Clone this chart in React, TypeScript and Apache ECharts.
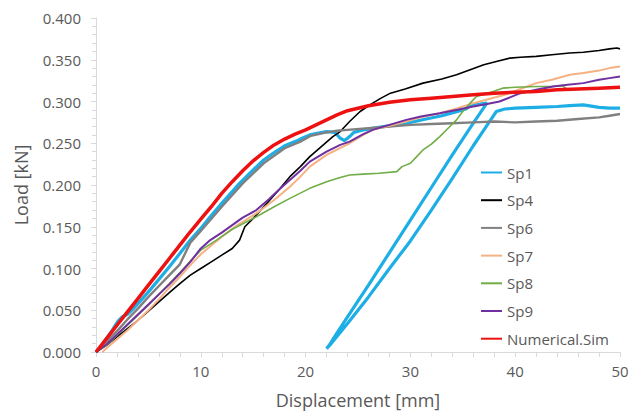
import React, { useEffect, useRef } from "react";
import * as echarts from "echarts";

const seriesNames = ["Sp1", "Sp4", "Sp6", "Sp7", "Sp8", "Sp9", "Numerical.Sim"];
const xTicks = { min: 0, max: 50, interval: 10 };
const yTicks = { min: 0, max: 0.4, interval: 0.05 };

const sp1: number[][] = [
  [0, 0], [0.5, 0.006], [1, 0.016], [1.6, 0.027], [2.1, 0.037], [2.5, 0.042], [3, 0.045], [3.5, 0.051],
  [4, 0.058], [5, 0.072], [6, 0.087], [7, 0.102], [8, 0.118], [9, 0.134], [10, 0.148], [10.9, 0.162],
  [12, 0.178], [13, 0.192], [13.7, 0.202], [15, 0.218], [16, 0.230], [16.9, 0.238], [18, 0.247],
  [19, 0.252], [19.5, 0.255], [20.4, 0.260], [21.1, 0.262], [22, 0.264], [22.8, 0.263], [23.3, 0.256],
  [23.7, 0.253], [24.2, 0.258], [24.6, 0.263], [25.5, 0.266], [27, 0.269], [28.5, 0.272], [30, 0.275],
  [31.5, 0.279], [33, 0.283], [34.5, 0.288], [35.3, 0.291], [35.8, 0.296], [36.6, 0.297], [37.3, 0.298],
  [36, 0.274], [34, 0.236], [32, 0.197], [30, 0.158], [28, 0.119], [26, 0.080], [24, 0.042], [23, 0.023],
  [22.3, 0.009], [22, 0.004], [22.5, 0.011], [24, 0.034], [26, 0.066], [28, 0.100], [30, 0.133],
  [32, 0.170], [34, 0.208], [36, 0.247], [37.5, 0.275], [38.2, 0.288], [39, 0.291], [40, 0.292],
  [42, 0.293], [44, 0.294], [45.2, 0.295], [46.5, 0.296], [48, 0.293], [49, 0.292], [50, 0.292],
];

const sp4: number[][] = [
  [0, 0], [1, 0.008], [2, 0.018], [3, 0.028], [4, 0.038], [5, 0.049], [6, 0.060], [7, 0.071],
  [8, 0.082], [9, 0.092], [10, 0.100], [11, 0.108], [12, 0.116], [13, 0.124], [13.7, 0.134],
  [14.2, 0.150], [15, 0.160], [16.3, 0.178], [17.5, 0.195], [18.5, 0.210], [19.5, 0.222],
  [20.4, 0.234], [21.5, 0.246], [22.6, 0.258], [23.3, 0.264], [24.2, 0.276], [25.2, 0.288],
  [26.4, 0.298], [27.2, 0.304], [28.1, 0.310], [29.5, 0.315], [31.2, 0.322], [33, 0.327],
  [34.4, 0.332], [35.7, 0.338], [37, 0.344], [38.2, 0.348], [39.5, 0.352], [40.5, 0.353],
  [42, 0.354], [43.5, 0.356], [45.2, 0.358], [46.5, 0.359], [48, 0.361], [49, 0.363], [49.7, 0.364], [50, 0.363],
];

const sp6: number[][] = [
  [0, 0], [1, 0.012], [2, 0.025], [3, 0.039], [4, 0.052], [5, 0.066], [6, 0.079], [7, 0.092],
  [8, 0.105], [9, 0.131], [10, 0.145], [12, 0.174], [14, 0.202], [16, 0.226], [18, 0.244],
  [19.5, 0.252], [20.5, 0.259], [22, 0.263], [23, 0.265], [24, 0.266], [26, 0.268], [28, 0.270],
  [30, 0.272], [32, 0.273], [34, 0.274], [36, 0.275], [38, 0.276], [40, 0.275], [42, 0.276],
  [44, 0.277], [46, 0.279], [48, 0.281], [49, 0.283], [50, 0.285],
];

const sp7: number[][] = [
  [0.6, 0], [1.5, 0.010], [3, 0.026], [4, 0.038], [5, 0.050], [6, 0.063], [7, 0.077], [8, 0.090],
  [9, 0.104], [10, 0.117], [12, 0.138], [13.5, 0.152], [15.3, 0.166], [17, 0.182], [18.5, 0.198],
  [19.5, 0.210], [20.4, 0.222], [22, 0.236], [24.2, 0.250], [25.5, 0.260], [26.4, 0.266], [28, 0.271],
  [29.6, 0.276], [31, 0.281], [32.8, 0.286], [34.5, 0.292], [36, 0.298], [37.5, 0.303], [39, 0.308],
  [40.5, 0.315], [42, 0.322], [43.5, 0.326], [45.2, 0.332], [46.5, 0.334], [48, 0.337], [49, 0.340], [50, 0.342],
];

const sp8: number[][] = [
  [0, 0], [1, 0.008], [2, 0.020], [3, 0.032], [4, 0.044], [5, 0.056], [6, 0.069], [7, 0.082],
  [8, 0.095], [9, 0.109], [10, 0.122], [11.5, 0.134], [13, 0.147], [15.3, 0.162], [17, 0.174],
  [18.5, 0.184], [20.4, 0.196], [22, 0.204], [23.3, 0.209], [24.2, 0.212], [25.5, 0.213], [27, 0.214],
  [28.7, 0.216], [29.2, 0.222], [30, 0.226], [30.6, 0.234], [31.2, 0.242], [32, 0.249], [32.8, 0.258],
  [33.6, 0.268], [34.4, 0.278], [35, 0.288], [35.7, 0.298], [36.3, 0.306], [37.2, 0.309], [37.9, 0.312],
  [38.8, 0.316], [40, 0.317], [42, 0.318], [43.5, 0.318], [44.5, 0.319], [44.9, 0.315],
];

const sp9: number[][] = [
  [0, 0], [1, 0.009], [2, 0.021], [3, 0.033], [4, 0.045], [5, 0.057], [6, 0.069], [7, 0.081],
  [8, 0.094], [9, 0.108], [10, 0.124], [10.9, 0.134], [12, 0.143], [13, 0.152], [14, 0.161],
  [15.3, 0.170], [16.5, 0.183], [17.5, 0.195], [18.5, 0.206], [19.5, 0.217], [20.4, 0.228],
  [22, 0.240], [23.3, 0.248], [24.2, 0.252], [25.5, 0.261], [26.4, 0.266], [28, 0.272], [29.6, 0.278],
  [31, 0.282], [32.8, 0.286], [34.5, 0.290], [36, 0.294], [37.3, 0.297], [38.5, 0.300], [39.5, 0.305],
  [40.5, 0.310], [42, 0.314], [43.6, 0.318], [45, 0.320], [46.5, 0.322], [48, 0.326], [49, 0.328], [50, 0.330],
];

const numSim: number[][] = [
  [0, 0], [1, 0.016], [2, 0.032], [3, 0.048], [4, 0.064], [5, 0.080], [6, 0.096], [7, 0.112],
  [8, 0.128], [9, 0.144], [10, 0.159], [11, 0.174], [12, 0.190], [13, 0.204], [14, 0.217],
  [15, 0.229], [16, 0.239], [17, 0.248], [18, 0.255], [19, 0.261], [20, 0.266], [21, 0.272],
  [22, 0.278], [23, 0.284], [24, 0.289], [25, 0.292], [26, 0.295], [28, 0.299], [30, 0.302],
  [32, 0.304], [34, 0.306], [36, 0.308], [38, 0.310], [40, 0.311], [42, 0.312], [44, 0.314],
  [46, 0.315], [48, 0.316], [50, 0.317],
];

const seriesData = [sp1, sp4, sp6, sp7, sp8, sp9, numSim];
const seriesColors = ["#1EAEE6", "#000000", "#808080", "#F4B183", "#70AD47", "#7030A0", "#EE1111"];
const seriesWidths = [3.2, 1.6, 2.4, 2, 1.6, 2, 3.5];

const FONT = "Open Sans";
const TXT = "#595959";
const AXC = "#D9D9D9";

export default function App() {
  const ref = useRef<HTMLDivElement>(null);
  useEffect(() => {
    if (!ref.current) return;
    const chart = echarts.init(ref.current, null, { renderer: "svg" });
    chart.setOption({
      animation: false,
      backgroundColor: "#ffffff",
      textStyle: { fontFamily: FONT },
      grid: { left: 96, right: 19, top: 18, bottom: 64, containLabel: false },
      legend: {
        orient: "vertical",
        left: 475,
        top: 160,
        itemWidth: 21,
        itemHeight: 14,
        itemGap: 12.7,
        itemStyle: { opacity: 0 },
        textStyle: { fontSize: 15, color: TXT, fontFamily: FONT },
        data: seriesNames,
      },
      xAxis: {
        type: "value",
        min: xTicks.min,
        max: xTicks.max,
        interval: xTicks.interval,
        name: "Displacement [mm]",
        nameLocation: "middle",
        nameGap: 39,
        nameTextStyle: { fontSize: 18, color: TXT, fontFamily: FONT },
        axisLine: { show: true, lineStyle: { color: AXC, width: 1 } },
        axisTick: { show: true, length: 5, lineStyle: { color: AXC } },
        minorTick: { show: true, splitNumber: 5, length: 5, lineStyle: { color: AXC } },
        splitLine: { show: false },
        axisLabel: { fontSize: 15, color: TXT, margin: 11, fontFamily: FONT },
      },
      yAxis: {
        type: "value",
        min: yTicks.min,
        max: yTicks.max,
        interval: yTicks.interval,
        name: "Load [kN]",
        nameLocation: "middle",
        nameGap: 66,
        nameTextStyle: { fontSize: 18, color: TXT, fontFamily: FONT },
        axisLine: { show: true, lineStyle: { color: AXC, width: 1 } },
        axisTick: { show: true, length: 5, lineStyle: { color: AXC } },
        minorTick: { show: true, splitNumber: 5, length: 4, lineStyle: { color: AXC } },
        splitLine: { show: false },
        axisLabel: {
          fontSize: 15,
          color: TXT,
          margin: 15,
          fontFamily: FONT,
          formatter: (v: number) => v.toFixed(3),
        },
      },
      series: seriesNames.map((name, i) => ({
        name,
        type: "line",
        data: seriesData[i],
        symbol: "none",
        showSymbol: false,
        smooth: false,
        color: seriesColors[i],
        lineStyle: { color: seriesColors[i], width: seriesWidths[i] },
        emphasis: { disabled: true },
        z: 2 + i,
      })),
    });
    return () => chart.dispose();
  }, []);
  return (
    <div
      ref={ref}
      style={{ position: "fixed", left: 0, top: 0, width: 639, height: 416, background: "#fff" }}
    />
  );
}
